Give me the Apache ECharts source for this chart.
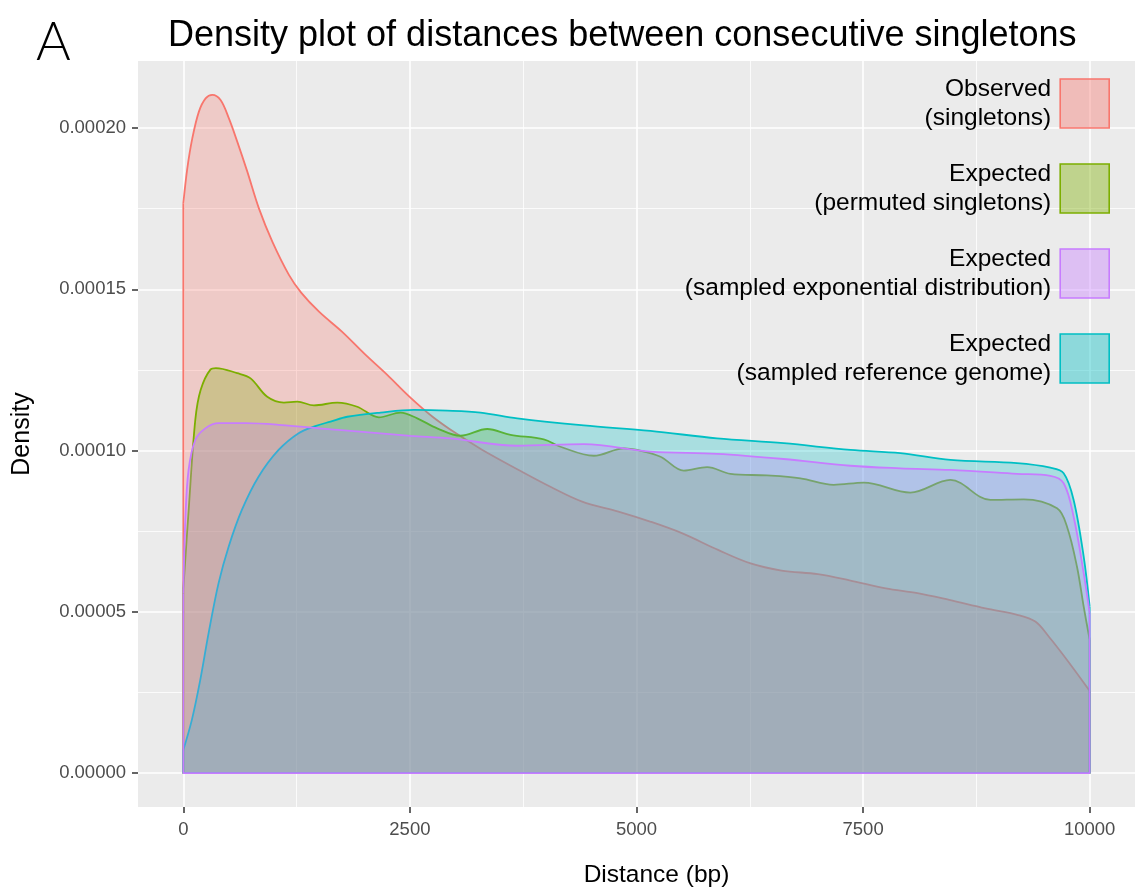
<!DOCTYPE html>
<html>
<head>
<meta charset="utf-8">
<script src="https://cdn.jsdelivr.net/npm/echarts@6/dist/echarts.min.js"></script>
<style>
  html, body { margin: 0; padding: 0; background: #ffffff; }
  #chart { width: 1135px; height: 888px; }
</style>
</head>
<body>
<div id="chart"></div>
<script>
// Density estimates of the spacing (bp) between consecutive singletons, as [distance, density].
const observedSingletons = [
  [0, 0.0001767], [44, 0.0001875], [99, 0.0001968], [172, 0.0002051], [246, 0.0002092],
  [320, 0.0002103], [411, 0.0002087], [503, 0.0002030], [595, 0.0001958], [706, 0.0001865],
  [834, 0.0001751], [982, 0.0001648], [1165, 0.0001545], [1300, 0.0001490], [1500, 0.0001430],
  [1750, 0.0001369], [2000, 0.0001300], [2250, 0.0001235], [2500, 0.0001166], [2750, 0.0001105],
  [3000, 0.0001055], [3300, 0.0001002], [3700, 0.0000940], [4050, 0.0000888], [4400, 0.0000842],
  [4800, 0.0000811], [5150, 0.0000780], [5500, 0.0000744], [5900, 0.0000692], [6250, 0.0000651],
  [6600, 0.0000628], [7000, 0.0000617], [7350, 0.0000598], [7750, 0.0000573], [8100, 0.0000558],
  [8450, 0.0000537], [8850, 0.0000511], [9200, 0.0000491], [9400, 0.0000470], [9550, 0.0000423],
  [9750, 0.0000351], [10000, 0.0000255]
];
const permutedSingletons = [
  [0, 0.0000570], [60, 0.0000820], [132, 0.0001095], [191, 0.0001188], [301, 0.0001252],
  [360, 0.0001256], [595, 0.0001240], [742, 0.0001224], [926, 0.0001167], [1110, 0.0001149],
  [1257, 0.0001152], [1441, 0.0001140], [1699, 0.0001149], [1919, 0.0001136], [2158, 0.0001103],
  [2397, 0.0001118], [2581, 0.0001100], [2801, 0.0001069], [3058, 0.0001046], [3353, 0.0001067],
  [3610, 0.0001049], [3977, 0.0001035], [4161, 0.0001012], [4529, 0.0000984], [4860, 0.0001007],
  [5007, 0.0001002], [5265, 0.0000981], [5521, 0.0000938], [5779, 0.0000949], [6037, 0.0000928],
  [6441, 0.0000923], [6809, 0.0000914], [7176, 0.0000894], [7507, 0.0000901], [8022, 0.0000870],
  [8463, 0.0000909], [8904, 0.0000847], [9272, 0.0000849], [9640, 0.0000821], [9750, 0.0000764],
  [9860, 0.0000640], [9934, 0.0000516], [10000, 0.0000413]
];
const referenceGenome = [
  [0, 0.0000072], [95, 0.0000166], [187, 0.0000289], [279, 0.0000434], [389, 0.0000589],
  [500, 0.0000702], [646, 0.0000816], [830, 0.0000919], [1051, 0.0001002], [1272, 0.0001054],
  [1456, 0.0001076], [1625, 0.0001090], [1809, 0.0001105], [2176, 0.0001118], [2544, 0.0001126],
  [2912, 0.0001124], [3279, 0.0001118], [3684, 0.0001100], [4419, 0.0001078], [5154, 0.0001061],
  [5889, 0.0001038], [6624, 0.0001023], [7360, 0.0001002], [7911, 0.0000992], [8463, 0.0000971],
  [9198, 0.0000961], [9566, 0.0000947], [9713, 0.0000930], [9823, 0.0000847], [9934, 0.0000671],
  [10000, 0.0000516]
];
const exponentialSample = [
  [0, 0.0000558], [22, 0.0000785], [58, 0.0000940], [132, 0.0001033], [243, 0.0001069],
  [389, 0.0001085], [684, 0.0001085], [1051, 0.0001080], [1713, 0.0001064], [2507, 0.0001046],
  [2948, 0.0001038], [3684, 0.0001015], [4419, 0.0001020], [5154, 0.0000997], [5889, 0.0000990],
  [6624, 0.0000974], [7360, 0.0000953], [7911, 0.0000945], [8463, 0.0000940], [9198, 0.0000928],
  [9566, 0.0000922], [9713, 0.0000899], [9823, 0.0000795], [9934, 0.0000620], [10000, 0.0000496]
];

const legendLabels = [
  'Observed\n(singletons)',
  'Expected\n(permuted singletons)',
  'Expected\n(sampled exponential distribution)',
  'Expected\n(sampled reference genome)'
];
const seriesColors = ['#F8766D', '#7CAE00', '#C77CFF', '#00BFC4'];

const xMajorTicks = [0, 2500, 5000, 7500, 10000];
const xMinorTicks = [1250, 3750, 6250, 8750];
const yMajorTicks = [0, 0.00005, 0.0001, 0.00015, 0.0002];
const yMinorTicks = [0.000025, 0.000075, 0.000125, 0.000175];

const FONT = "'Liberation Sans', Arial, Helvetica, sans-serif";
const X_RANGE = [-500, 10500];
const Y_RANGE = [-0.0000105, 0.0002208];

function fade(hex, a) {
  const n = parseInt(hex.slice(1), 16);
  return 'rgba(' + (n >> 16) + ',' + ((n >> 8) & 255) + ',' + (n & 255) + ',' + a + ')';
}

// one filled density curve plus its closing outline (left edge, baseline, right edge);
// each layer sits on its own z so a later fill covers the earlier outlines
function densityLayer(name, data, color, z) {
  const first = data[0];
  const last = data[data.length - 1];
  return [
    {
      type: 'line', name: name, data: data, smooth: 0.35, symbol: 'none', silent: true, z: z,
      xAxisIndex: 0, yAxisIndex: 0,
      lineStyle: { color: color, width: 1.8 },
      itemStyle: { color: color },
      areaStyle: { color: fade(color, 0.4), origin: 'auto' }
    },
    {
      type: 'line', data: [first, [first[0], 0], [last[0], 0], last], symbol: 'none', silent: true, z: z,
      xAxisIndex: 0, yAxisIndex: 0,
      lineStyle: { color: color, width: 1.8 }
    }
  ];
}

const series = [].concat(
  densityLayer(legendLabels[0], observedSingletons, seriesColors[0], 2),
  densityLayer(legendLabels[1], permutedSingletons, seriesColors[1], 3),
  densityLayer(legendLabels[3], referenceGenome, seriesColors[3], 4),
  densityLayer(legendLabels[2], exponentialSample, seriesColors[2], 5)
);

const chart = echarts.init(document.getElementById('chart'), null, { renderer: 'canvas' });
chart.setOption({
  animation: false,
  backgroundColor: '#ffffff',
  title: [
    {
      text: 'Density plot of distances between consecutive singletons',
      left: 163, top: 13,
      textStyle: { fontFamily: FONT, fontSize: 36, fontWeight: 'normal', color: '#000000' }
    },
    {
      text: 'A', left: 31, top: 11,
      textStyle: { fontFamily: "Lato, 'Liberation Sans', sans-serif", fontSize: 53, fontWeight: 300, color: '#000000' }
    }
  ],
  grid: {
    left: 138, right: 0, top: 61, bottom: 81,
    outerBoundsMode: 'none', containLabel: false,
    show: true, backgroundColor: '#EBEBEB', borderWidth: 0
  },
  legend: {
    orient: 'vertical', right: 25, top: 75, align: 'right',
    itemWidth: 49, itemHeight: 49, itemGap: 28, selectedMode: false,
    padding: 0, z: 10,
    textStyle: { fontFamily: FONT, fontSize: 24.5, lineHeight: 28.5, color: '#000000', padding: [0, 4, 0, 0] },
    data: legendLabels.map(function (label, i) {
      return {
        name: label, icon: 'rect',
        itemStyle: { color: fade(seriesColors[i], 0.4), borderColor: seriesColors[i], borderWidth: 1.6 }
      };
    })
  },
  xAxis: [
    {
      type: 'value', min: X_RANGE[0], max: X_RANGE[1],
      axisLine: { show: false, onZero: false },
      axisTick: { show: true, length: 6, customValues: xMajorTicks, lineStyle: { color: '#333333', width: 1.5 } },
      axisLabel: {
        customValues: xMajorTicks, color: '#4D4D4D', fontFamily: FONT, fontSize: 18.5, margin: 13,
        formatter: function (v) { return String(v); }
      },
      splitLine: { show: true, lineStyle: { color: '#ffffff', width: 1.6 } },
      name: 'Distance (bp)', nameLocation: 'middle', nameGap: 56,
      nameTextStyle: { fontFamily: FONT, fontSize: 24.5, color: '#000000', padding: [0, 0, 0, 40] }
    },
    {
      type: 'value', min: X_RANGE[0], max: X_RANGE[1], position: 'bottom',
      axisLine: { show: false, onZero: false },
      axisTick: { show: false, customValues: xMinorTicks },
      axisLabel: { show: false, customValues: xMinorTicks },
      splitLine: { show: true, lineStyle: { color: '#ffffff', width: 0.8 } }
    }
  ],
  yAxis: [
    {
      type: 'value', min: Y_RANGE[0], max: Y_RANGE[1],
      axisLine: { show: false, onZero: false },
      axisTick: { show: true, length: 6, customValues: yMajorTicks, lineStyle: { color: '#333333', width: 1.5 } },
      axisLabel: {
        customValues: yMajorTicks, color: '#4D4D4D', fontFamily: FONT, fontSize: 18.5, margin: 12,
        formatter: function (v) { return v.toFixed(5); }
      },
      splitLine: { show: true, lineStyle: { color: '#ffffff', width: 1.6 } },
      name: 'Density', nameLocation: 'middle', nameGap: 103,
      nameTextStyle: { fontFamily: FONT, fontSize: 25, color: '#000000' }
    },
    {
      type: 'value', min: Y_RANGE[0], max: Y_RANGE[1], position: 'left',
      axisLine: { show: false, onZero: false },
      axisTick: { show: false, customValues: yMinorTicks },
      axisLabel: { show: false, customValues: yMinorTicks },
      splitLine: { show: true, lineStyle: { color: '#ffffff', width: 0.8 } }
    }
  ],
  series: series
});
</script>
</body>
</html>
